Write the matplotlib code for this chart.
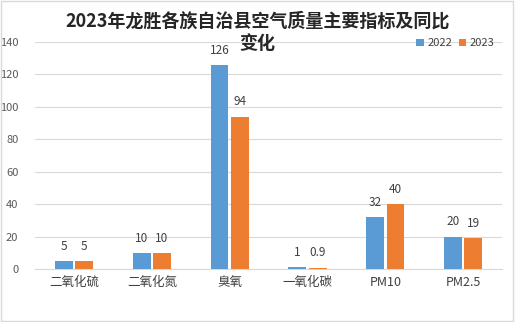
import matplotlib.pyplot as plt
import numpy as np

plt.rcParams['font.family'] = ['Noto Sans CJK SC', 'DejaVu Sans']

categories = ['二氧化硫', '二氧化氮', '臭氧', '一氧化碳', 'PM10', 'PM2.5']
values_2022 = [5, 10, 126, 1, 32, 20]
values_2023 = [5, 10, 94, 0.9, 40, 19]
labels_2022 = ['5', '10', '126', '1', '32', '20']
labels_2023 = ['5', '10', '94', '0.9', '40', '19']
yticks = [0, 20, 40, 60, 80, 100, 120, 140]

blue = '#5B9BD5'
orange = '#ED7D31'

fig = plt.figure(figsize=(5.15, 3.22), dpi=100)
fig.patches.append(plt.Rectangle((0.002, 0.003), 0.995, 0.993, transform=fig.transFigure,
                                 fill=False, edgecolor='#D9D9D9', linewidth=1))
ax = fig.add_axes([0.068, 0.1646, 0.907, 0.705])

x = np.arange(len(categories))
w = 0.23
off = 0.13
b1 = ax.bar(x - off, values_2022, w, color=blue, label='2022', zorder=3)
b2 = ax.bar(x + off, values_2023, w, color=orange, label='2023', zorder=3)

for bars, labs in ((b1, labels_2022), (b2, labels_2023)):
    for bar, lab in zip(bars, labs):
        ax.text(bar.get_x() + bar.get_width() / 2, bar.get_height() + 5, lab,
                ha='center', va='bottom', fontsize=8.5, color='#404040')

ax.set_xlim(-0.5, len(categories) - 0.5)
ax.set_ylim(0, 140)
ax.set_yticks(yticks)
ax.set_xticks(x)
ax.set_xticklabels(categories, fontsize=9, color='#404040')
ax.tick_params(axis='y', labelsize=8, colors='#595959', length=0, pad=12)
ax.tick_params(axis='x', length=0, pad=5)
ax.grid(axis='y', color='#D9D9D9', linewidth=0.8, zorder=0)
for s in ['top', 'right', 'left']:
    ax.spines[s].set_visible(False)
ax.spines['bottom'].set_color('#D9D9D9')

fig.text(0.5, 0.935, '2023年龙胜各族自治县空气质量主要指标及同比', ha='center', va='center',
         fontsize=13, fontweight='bold', color='#262626')
fig.text(0.5, 0.865, '变化', ha='center', va='center',
         fontsize=13, fontweight='bold', color='#262626')

ax.legend(loc='upper right', bbox_to_anchor=(1.005, 1.06), ncol=2, frameon=False,
          fontsize=8, handlelength=0.7, handleheight=0.7, columnspacing=0.6,
          handletextpad=0.3, labelcolor='#404040')

fig.savefig('out.png', dpi=100)
